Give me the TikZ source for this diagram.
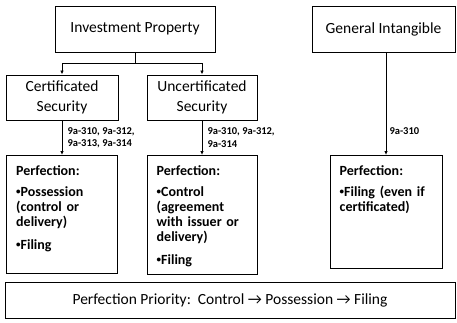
\documentclass[tikz,border=0pt]{standalone}
\usepackage{fontspec}
\setmainfont{Carlito}
\usetikzlibrary{arrows.meta,positioning}

\newcommand{\dotitem}{{\fontsize{9}{9}\selectfont\raisebox{1.5pt}{•}}}

\tikzset{
    box/.style={draw, line width=1pt, inner sep=0pt},
    title/.style={font=\fontsize{15.5}{19.5}\selectfont, align=center},
    perftext/.style={font=\fontsize{14}{15}\selectfont\bfseries, align=left,
        text width=#1, inner sep=0pt, anchor=north west},
    cite/.style={font=\fontsize{10.5}{12.5}\selectfont\bfseries, align=left,
        inner sep=0pt, anchor=west},
    link/.style={line width=1pt, -{Latex[length=4pt,width=3.5pt]}},
}

\begin{document}
\begin{tikzpicture}[x=1pt,y=-1pt]
        \useasboundingbox (0,0) rectangle (457,322);
        % top row
        \node[box, title, minimum width=160pt, minimum height=46pt] (inv) at (135,29) {Investment Property};
        \node[box, title, minimum width=143pt, minimum height=46pt] (gen) at (383.5,29) {General Intangible};
        % securities
        \node[box, title, minimum width=112pt, minimum height=45pt] (cert) at (62,97.5) {Certificated\\Security};
        \node[box, title, minimum width=110pt, minimum height=45pt] (uncert) at (202,97.5) {Uncertificated\\Security};
        % perfection boxes
        \node[box, minimum width=111pt, minimum height=118pt, anchor=north] (perfA) at (62,155) {};
        \node[box, minimum width=110pt, minimum height=119pt, anchor=north] (perfB) at (202,155) {};
        \node[box, minimum width=112pt, minimum height=113pt, anchor=north] (perfC) at (386,155) {};
        \node[perftext=100pt] (perfAtext) at ([xshift=10pt,yshift=-10pt]perfA.north west)
            {Perfection:\\[6pt]\dotitem Possession\\(control or\\delivery)\\[8pt]\dotitem Filing};
        \node[perftext=100pt] (perfBtext) at ([xshift=10pt,yshift=-10pt]perfB.north west)
            {Perfection:\\[6pt]\dotitem Control\\(agreement\\with issuer or\\delivery)\\[8pt]\dotitem Filing};
        \node[perftext=100pt] (perfCtext) at ([xshift=10pt,yshift=-10pt]perfC.north west)
            {Perfection:\\[6pt]\dotitem Filing (even if\\certificated)};
        % priority
        \node[box, title, minimum width=450pt, minimum height=36pt] (prio) at (230,300)
            {Perfection Priority:\ \ Control → Possession → Filing};
        % connectors
        \coordinate (split) at ([yshift=-11pt]inv.south);
        \draw[line width=1pt] (inv.south) -- (split);
        \draw[link] (split) -| (cert.north);
        \draw[link] (split) -| (uncert.north);
        \draw[link] (cert.south) -- node[cite, right=5pt] (citeA) {9a-310, 9a-312,\\9a-313, 9a-314} (perfA.north);
        \draw[link] (uncert.south) -- node[cite, right=5pt] (citeB) {9a-310, 9a-312,\\9a-314} (perfB.north);
        \draw[link] (gen.south -| perfC.north) -- node[cite, right=3pt, pos=0.77] (citeC) {9a-310} (perfC.north);
    \end{tikzpicture}
\end{document}
